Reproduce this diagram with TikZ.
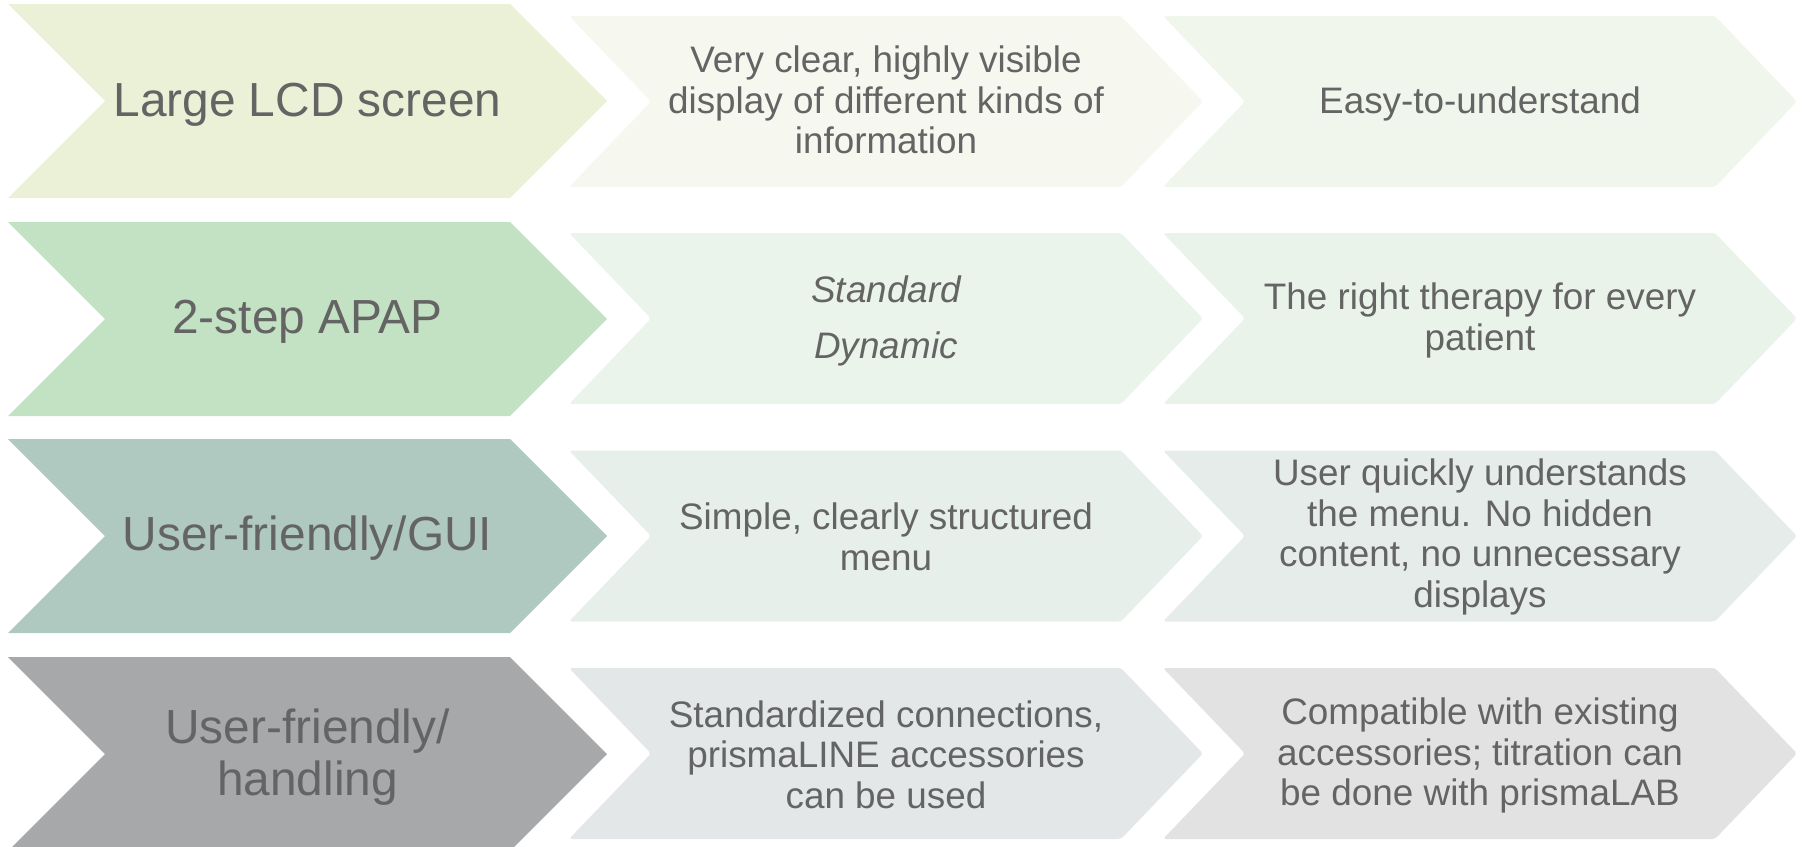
\documentclass[tikz,border=0pt]{standalone}
\usepackage{fontspec}
\setmainfont{Liberation Sans}
\definecolor{txtgray}{HTML}{646464}
\definecolor{lA}{HTML}{EBF1D7}
\definecolor{sAa}{HTML}{F6F8EF}
\definecolor{sAb}{HTML}{F0F6EC}
\definecolor{lB}{HTML}{C3E2C3}
\definecolor{sBa}{HTML}{EBF4EA}
\definecolor{sBb}{HTML}{E9F3EA}
\definecolor{lC}{HTML}{AFC9C1}
\definecolor{sCa}{HTML}{E7EFEB}
\definecolor{sCb}{HTML}{E5ECE9}
\definecolor{lD}{HTML}{A7A8AA}
\definecolor{sDa}{HTML}{E3E7E8}
\definecolor{sDb}{HTML}{E2E2E3}
\tikzset{
  bigtxt/.style={text=txtgray, font=\fontsize{48}{52}\selectfont, align=center, inner sep=0pt},
  smalltxt/.style={text=txtgray, font=\fontsize{37}{40.6}\selectfont, align=center, inner sep=0pt},
  smallchev/.style={rounded corners=3bp},
}
% big chevron: #1 colour, #2 mid y
\newcommand\bigchev[2]{%
  \fill[#1] (8,#2-97) -- (510,#2-97) -- (607,#2) -- (510,#2+97) -- (8,#2+97) -- (105,#2) -- cycle;}
% small chevron: #1 colour, #2 left x, #3 mid y
\newcommand\smallchevr[3]{%
  \fill[#1,smallchev] (#2,#3-85.5) -- (#2+552,#3-85.5) -- (#2+634,#3) -- (#2+552,#3+85.5) -- (#2,#3+85.5) -- (#2+82,#3) -- cycle;}
\begin{document}
\begin{tikzpicture}[x=1bp,y=-1bp]
\useasboundingbox (0,0) rectangle (1802,847);
\clip (0,0) rectangle (1802,847);
% row 1
\bigchev{lA}{101}
\smallchevr{sAa}{569}{101.5}
\smallchevr{sAb}{1163}{101.5}
% row 2
\bigchev{lB}{319}
\smallchevr{sBa}{569}{318.5}
\smallchevr{sBb}{1163}{318.5}
% row 3
\bigchev{lC}{536}
\smallchevr{sCa}{569}{536}
\smallchevr{sCb}{1163}{536}
% row 4
\bigchev{lD}{754}
\smallchevr{sDa}{569}{753.5}
\smallchevr{sDb}{1163}{753.5}
% texts
\node[bigtxt] (t1) at (307.5,105) {Large LCD screen};
\node[smalltxt] (t1b) at (886,100) {Very clear, highly visible\\display of different kinds of\\information};
\node[smalltxt] (t1c) at (1480,104) {Easy-to-understand};
\node[bigtxt] (t2) at (307.5,321.5) {2-step APAP};
\node[smalltxt, font=\fontsize{37}{40.6}\selectfont\itshape] (t2b) at (886,321) {Standard\\[16bp]Dynamic};
\node[smalltxt] (t2c) at (1480,320.5) {The right therapy for every\\patient};
\node[bigtxt] (t3) at (307.5,538.5) {User-friendly/GUI};
\node[smalltxt] (t3b) at (886,537) {Simple, clearly structured\\menu};
\node[smalltxt] (t3c) at (1480,537) {User quickly understands\\the menu. No hidden\\content, no unnecessary\\displays};
\node[bigtxt] (t4) at (307.5,757) {User-friendly/\\handling};
\node[smalltxt] (t4b) at (886,754.5) {Standardized connections,\\prismaLINE accessories\\can be used};
\node[smalltxt] (t4c) at (1480,755.5) {Compatible with existing\\accessories; titration can\\be done with prismaLAB};
\end{tikzpicture}
\end{document}
